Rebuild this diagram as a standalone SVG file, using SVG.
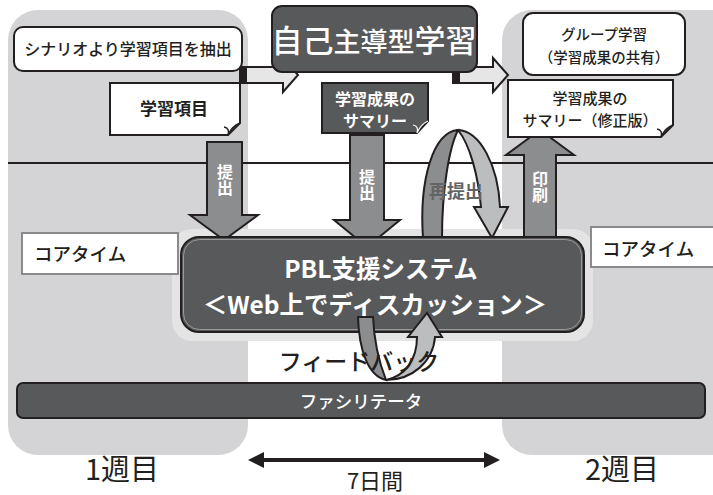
<svg xmlns="http://www.w3.org/2000/svg" width="713" height="495" viewBox="0 0 713 495">
<style>
.jp{font-family:"Noto Sans CJK JP","Noto Sans",sans-serif}
.wb{fill:#fff;font-weight:bold}
.vt{writing-mode:vertical-rl;text-anchor:middle;font-size:16px}
.box{fill:#fff;stroke:#231f20;stroke-width:2}
.dark{fill:#58595b;stroke:#231f20;stroke-width:2}
.mid{fill:#8c8d8f;stroke:#231f20;stroke-width:2;stroke-linejoin:miter}
.lite{fill:#bcbdbf;stroke:#231f20;stroke-width:2}
.flow{fill:#e6e6e7;stroke:#231f20;stroke-width:2}
</style>
<defs>
<marker id="ah" markerWidth="4" markerHeight="4" refX="3" refY="2" orient="auto-start-reverse" markerUnits="strokeWidth"><path d="M0,0 L4,2 L0,4 Z" fill="#231f20"/></marker>
</defs>
<rect width="713" height="495" fill="#fff"/>
<g id="panels">
<rect x="8" y="10" width="240" height="445" rx="30" fill="#d4d4d6"/>
<rect x="502" y="10" width="240" height="445" rx="30" fill="#d4d4d6"/>
<rect x="172" y="229" width="421" height="112" rx="20" fill="#e4e4e5"/>
<line x1="8" y1="163" x2="713" y2="163" stroke="#231f20" stroke-width="2"/>
</g>
<g id="connectors">
<g id="flow1">
<path class="flow" d="M240 67 H283 V58 L298 75 L283 92 V83 H240 Z"/>
<rect x="240" y="67" width="7" height="16" fill="#231f20"/>
</g>
<g id="flow2">
<path class="flow" d="M453 67 H493 V58 L508 75 L493 92 V83 H453 Z"/>
<rect x="453" y="67" width="7" height="16" fill="#231f20"/>
</g>
<g id="submit1">
<path class="mid" d="M207 142 H242 V215 H258 L224 240 L190 215 H207 Z"/>
<text class="jp wb vt" x="225" y="180">提出</text>
</g>
<g id="submit2">
<path class="mid" d="M350 135 H384 V220 H400 L367 247 L334 220 H350 Z"/>
<text class="jp wb vt" x="367" y="185">提出</text>
</g>
<g id="print">
<path class="mid" d="M524 237 V155 H506 L540 130 L574 155 H556 V237 Z"/>
<text class="jp wb vt" x="540" y="187">印刷</text>
</g>
<g id="resubmit">
<path class="mid" d="M423 238 C419 180 433 132 458 130 C449 148 442 190 442 238 Z"/>
<path class="lite" d="M458 130 C480 131 498 165 500 207 L508 207 L492 238 L474 207 L481 207 C478 175 470 145 458 130 Z"/>
</g>
</g>
<g id="topLeft">
<rect class="box" x="14" y="27" width="228" height="44" rx="9"/>
<text class="jp" x="128" y="55" font-size="16" font-weight="500" text-anchor="middle" fill="#231f20">シナリオより学習項目を抽出</text>
</g>
<g id="item">
<path class="box" d="M110 83 H240 V123 L228 135 H110 Z"/>
<path d="M240 123 Q232 126 228 135 Q230 128 224 127" fill="none" stroke="#231f20" stroke-width="1.5"/>
<text class="jp" x="174" y="115" font-size="17" font-weight="bold" text-anchor="middle" fill="#231f20">学習項目</text>
</g>
<g id="selfStudy">
<rect class="dark" x="272" y="6" width="205" height="66" rx="10"/>
<text class="jp" x="374" y="52" text-anchor="middle" fill="#fff" font-weight="500"><tspan font-size="31">自己</tspan><tspan font-size="27">主導型</tspan><tspan font-size="31">学習</tspan></text>
</g>
<g id="summary">
<path class="dark" d="M322 83 H428 V121 L417 133 H322 Z"/>
<path d="M428 121 Q421 124 417 133 Q419 126 413 125" fill="none" stroke="#fff" stroke-width="1.2"/>
<text class="jp wb" x="375" y="105" font-size="16" text-anchor="middle">学習成果の</text>
<text class="jp wb" x="375" y="127" font-size="16" text-anchor="middle">サマリー</text>
</g>
<g id="group">
<rect class="box" x="523" y="13" width="162" height="62" rx="10"/>
<text class="jp" x="604" y="40" font-size="14.5" font-weight="500" text-anchor="middle" fill="#231f20">グループ学習</text>
<text class="jp" x="604" y="63" font-size="14.5" font-weight="500" text-anchor="middle" fill="#231f20">（学習成果の共有）</text>
</g>
<g id="summary2">
<path class="box" d="M508 80 H673 V125 L661 137 H508 Z"/>
<path d="M673 125 Q665 128 661 137 Q663 130 657 129" fill="none" stroke="#231f20" stroke-width="1.5"/>
<text class="jp" x="590" y="104" font-size="15" font-weight="500" text-anchor="middle" fill="#231f20">学習成果の</text>
<text class="jp" x="590" y="126" font-size="15" font-weight="500" text-anchor="middle" fill="#231f20">サマリー（修正版）</text>
</g>
<g id="resubmitLabel">
<text class="jp" x="456" y="198" font-size="18" font-weight="bold" text-anchor="middle" fill="#636466">再提出</text>
</g>
<g id="coreLeft">
<rect x="22" y="233" width="156" height="41" fill="#fff" stroke="#8a8a8c" stroke-width="2"/>
<text class="jp" x="34" y="261" font-size="18.5" font-weight="500" fill="#231f20">コアタイム</text>
</g>
<g id="coreRight">
<rect x="591" y="227" width="130" height="40" fill="#fff" stroke="#8a8a8c" stroke-width="2"/>
<text class="jp" x="602" y="256" font-size="18.5" font-weight="500" fill="#231f20">コアタイム</text>
</g>
<g id="pbl">
<rect class="dark" x="181" y="237" width="403" height="95" rx="18"/>
<rect x="183.5" y="239.5" width="398" height="90" rx="16" fill="none" stroke="#9a9a9c" stroke-width="1"/>
<text class="jp wb" x="381" y="278" font-size="24.5" text-anchor="middle">PBL支援システム</text>
<text class="jp wb" x="375" y="314" font-size="24.5" text-anchor="middle">＜Web上でディスカッション＞</text>
</g>
<g id="feedback">
<path class="mid" d="M358 317 L373 317 C374 340 379 362 386 380 C368 376 359 350 358 317 Z"/>
<path class="lite" d="M386 380 C405 376 417 360 417 337 L408 337 L427 313 L442 337 L435 337 C433 362 412 380 386 380 Z"/>
<text class="jp" x="359" y="370" font-size="23" font-weight="500" text-anchor="middle" fill="#231f20">フィードバック</text>
</g>
<g id="facilitator">
<rect class="dark" x="17" y="383" width="688" height="35" rx="6"/>
<text class="jp" x="361" y="408" font-size="17.5" font-weight="500" text-anchor="middle" fill="#fff">ファシリテータ</text>
</g>
<g id="timeline">
<line x1="252" y1="460" x2="496" y2="460" stroke="#231f20" stroke-width="4" marker-start="url(#ah)" marker-end="url(#ah)"/>
<text class="jp" x="122" y="480" font-size="29" text-anchor="middle" fill="#231f20">1週目</text>
<text class="jp" x="375" y="489" font-size="22" text-anchor="middle" fill="#231f20">7日間</text>
<text class="jp" x="622" y="480" font-size="29" text-anchor="middle" fill="#231f20">2週目</text>
</g>
</svg>
